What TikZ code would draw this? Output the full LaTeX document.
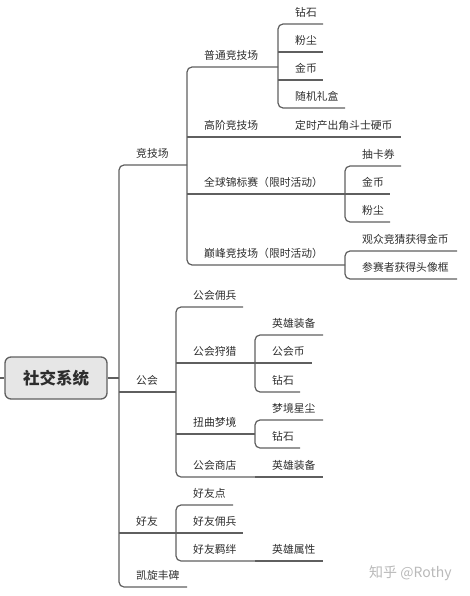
\documentclass[tikz,border=0pt]{standalone}
\usepackage{fontspec}
\newfontfamily\cjk{Noto Sans CJK SC}
\definecolor{lnc}{RGB}{95,95,95}
\definecolor{txc}{RGB}{45,45,45}
\definecolor{rootfill}{RGB}{230,230,230}
\definecolor{wm}{RGB}{185,185,185}
\newcommand\mmitem[5]{%
  \coordinate (#1-s) at (#2,#3);
  \coordinate (#1-e) at (#4,#3);
  \node[lbl] (#1) at ([xshift=17pt,yshift=7.5pt]#1-s) {#5};
}
\begin{document}
\begin{tikzpicture}[x=1pt,y=-1pt,
  lbl/.style={font=\cjk\fontsize{10.8}{13}\selectfont, text=txc, anchor=base west, inner sep=0pt},
  br/.style={draw=lnc, line width=1.2pt, rounded corners=5pt},
  ul/.style={draw=lnc, line width=1.2pt},
  rootbox/.style={draw=lnc, line width=1.3pt, fill=rootfill, rounded corners=6pt,
    minimum width=102pt, minimum height=42pt, inner sep=0pt,
    font=\cjk\bfseries\fontsize{16.5}{18}\selectfont, text=txc}]
\useasboundingbox (0,0) rectangle (470,596);

% root
\node[rootbox] (root) at (56,378) {社交系统};
\coordinate (lt) at (0,378);
\coordinate (trunk) at (119,378);
\draw[ul] (lt) -- (root.west);
\draw[ul] (root.east) -- (trunk);

% level 1
\mmitem{jjc}{119}{165}{187}{竞技场}
\mmitem{gh}{119}{392}{176}{公会}
\mmitem{hy}{119}{533}{176}{好友}
\mmitem{kx}{119}{587}{187}{凯旋丰碑}
\draw[br] (jjc-e) -- (jjc-s) -- (kx-s) -- (kx-e);
\draw[ul] (gh-s) -- (gh-e);
\draw[ul] (hy-s) -- (hy-e);

% under 竞技场
\mmitem{pt}{187}{67}{278}{普通竞技场}
\mmitem{gj}{187}{137}{278}{高阶竞技场}
\mmitem{qq}{187}{194}{345}{全球锦标赛（限时活动）}
\mmitem{df}{187}{265}{345}{巅峰竞技场（限时活动）}
\draw[br] (pt-e) -- (pt-s) -- (df-s) -- (df-e);
\draw[ul] (gj-s) -- (gj-e);
\draw[ul] (qq-s) -- (qq-e);

% under 普通竞技场
\mmitem{pta}{278}{24}{323}{钻石}
\mmitem{ptb}{278}{52}{323}{粉尘}
\mmitem{ptc}{278}{80}{323}{金币}
\mmitem{ptd}{278}{108}{345}{随机礼盒}
\draw[br] (pta-e) -- (pta-s) -- (ptd-s) -- (ptd-e);
\draw[ul] (ptb-s) -- (ptb-e);
\draw[ul] (ptc-s) -- (ptc-e);

% under 高阶竞技场
\mmitem{gja}{278}{137}{401}{定时产出角斗士硬币}
\draw[ul] (gja-s) -- (gja-e);

% under 全球锦标赛
\mmitem{qqa}{345}{166}{401}{抽卡券}
\mmitem{qqb}{345}{194}{390}{金币}
\mmitem{qqc}{345}{222}{390}{粉尘}
\draw[br] (qqa-e) -- (qqa-s) -- (qqc-s) -- (qqc-e);
\draw[ul] (qqb-s) -- (qqb-e);

% under 巅峰竞技场
\mmitem{dfa}{345}{251}{457}{观众竞猜获得金币}
\mmitem{dfb}{345}{279}{457}{参赛者获得头像框}
\draw[br] (dfa-e) -- (dfa-s) -- (dfb-s) -- (dfb-e);

% under 公会
\mmitem{gha}{176}{307}{243}{公会佣兵}
\mmitem{ghb}{176}{363}{255}{公会狩猎}
\mmitem{ghc}{176}{434}{255}{扭曲梦境}
\mmitem{ghd}{176}{477}{255}{公会商店}
\draw[br] (gha-e) -- (gha-s) -- (ghd-s) -- (ghd-e);
\draw[ul] (ghb-s) -- (ghb-e);
\draw[ul] (ghc-s) -- (ghc-e);

% under 公会狩猎
\mmitem{sla}{255}{335}{323}{英雄装备}
\mmitem{slb}{255}{363}{312}{公会币}
\mmitem{slc}{255}{392}{300}{钻石}
\draw[br] (sla-e) -- (sla-s) -- (slc-s) -- (slc-e);
\draw[ul] (slb-s) -- (slb-e);

% under 扭曲梦境
\mmitem{mja}{255}{420}{323}{梦境星尘}
\mmitem{mjb}{255}{448}{300}{钻石}
\draw[br] (mja-e) -- (mja-s) -- (mjb-s) -- (mjb-e);

% under 公会商店
\mmitem{sda}{255}{477}{323}{英雄装备}
\draw[ul] (sda-s) -- (sda-e);

% under 好友
\mmitem{hya}{176}{505}{233}{好友点}
\mmitem{hyb}{176}{533}{243}{好友佣兵}
\mmitem{hyc}{176}{561}{255}{好友羁绊}
\draw[br] (hya-e) -- (hya-s) -- (hyc-s) -- (hyc-e);
\draw[ul] (hyb-s) -- (hyb-e);

% under 好友羁绊
\mmitem{jba}{255}{561}{323}{英雄属性}
\draw[ul] (jba-s) -- (jba-e);

% watermark
\node[font=\cjk\fontsize{14}{16}\selectfont, text=wm, anchor=west, inner sep=0pt] (wmk) at (369,573) {知乎 @Rothy};
\end{tikzpicture}
\end{document}
